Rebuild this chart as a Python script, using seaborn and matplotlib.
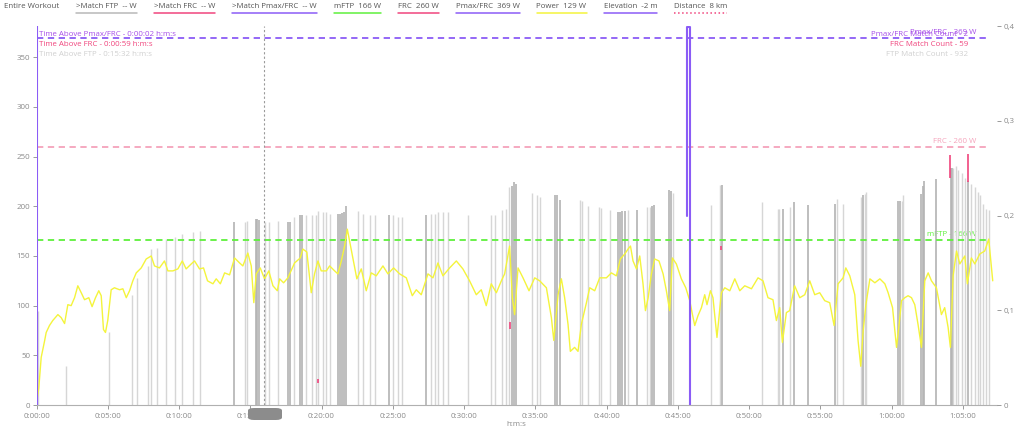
import numpy as np
import pandas as pd
import matplotlib
matplotlib.use("Agg")
import matplotlib.pyplot as plt
import seaborn as sns
from matplotlib.ticker import FuncFormatter
from matplotlib.patches import FancyBboxPatch
from matplotlib.lines import Line2D

sns.set_style("white")
plt.rcParams['font.family'] = ['Open Sans', 'DejaVu Sans']

# power trace (minutes, watts)
power_t = [0.0, 0.16, 0.33, 0.56, 0.68, 0.91, 1.14, 1.5, 1.73, 1.97, 2.2, 2.43, 2.67, 2.9, 3.14, 3.37,
           3.67, 3.9, 4.14, 4.37, 4.54, 4.7, 4.84, 5.0, 5.24, 5.47, 5.83, 6.06, 6.3, 6.53, 6.76, 7.0,
           7.35, 7.7, 8.05, 8.28, 8.63, 8.98, 9.22, 9.57, 9.92, 10.23, 10.5, 10.86, 11.09, 11.44, 11.72,
           12.0, 12.38, 12.61, 12.9, 13.2, 13.55, 13.9, 14.25, 14.48, 14.83, 15.07, 15.25, 15.42, 15.7,
           16.0, 16.3, 16.59, 16.9, 17.06, 17.34, 17.64, 18.11, 18.51, 18.69, 18.97, 19.28, 19.51, 19.75,
           19.98, 20.34, 20.57, 20.92, 21.15, 21.39, 21.62, 21.81, 21.97, 22.2, 22.48, 22.79, 23.14,
           23.49, 23.84, 24.31, 24.66, 25.06, 25.48, 25.95, 26.37, 26.65, 27.0, 27.47, 27.82, 28.17,
           28.52, 28.99, 29.46, 29.92, 30.39, 30.86, 31.21, 31.56, 31.91, 32.27, 32.62, 32.85, 33.2,
           33.39, 33.55, 33.79, 34.14, 34.56, 34.96, 35.31, 35.78, 36.13, 36.3, 36.6, 36.83, 37.06,
           37.3, 37.46, 37.76, 38.0, 38.23, 38.59, 38.82, 39.17, 39.52, 39.99, 40.34, 40.69, 40.97,
           41.28, 41.51, 41.68, 41.86, 42.1, 42.33, 42.56, 42.73, 42.92, 43.15, 43.38, 43.68, 43.97,
           44.2, 44.43, 44.62, 44.9, 45.25, 45.56, 45.84, 46.03, 46.19, 46.42, 46.66, 46.89, 47.05,
           47.29, 47.47, 47.75, 48.06, 48.3, 48.65, 49.0, 49.35, 49.7, 50.17, 50.63, 50.98, 51.33,
           51.68, 51.92, 52.15, 52.34, 52.62, 52.85, 53.2, 53.56, 53.91, 54.26, 54.61, 54.96, 55.31,
           55.66, 55.97, 56.25, 56.6, 56.79, 57.07, 57.42, 57.65, 57.84, 58.01, 58.2, 58.48, 58.83,
           59.18, 59.53, 59.76, 60.07, 60.35, 60.53, 60.7, 60.93, 61.16, 61.4, 61.63, 61.86, 62.1,
           62.33, 62.57, 62.8, 63.15, 63.5, 63.73, 63.97, 64.13, 64.32, 64.56, 64.79, 65.14, 65.32,
           65.6, 65.84, 66.19, 66.54, 66.82, 67.1]
power_w = [2, 17, 48, 64, 73, 80, 85, 91, 88, 82, 101, 100, 108, 120, 113, 106,
           108, 99, 108, 115, 110, 76, 73, 85, 116, 118, 116, 117, 108, 115, 125, 133,
           138, 147, 150, 140, 138, 145, 135, 135, 137, 145, 137, 142, 145, 137, 138,
           125, 122, 127, 122, 133, 131, 148, 143, 140, 153, 140, 103, 132, 138,
           127, 135, 120, 115, 127, 123, 128, 143, 148, 157, 154, 113, 132, 145,
           135, 135, 140, 135, 132, 145, 160, 177, 165, 148, 127, 137, 115,
           133, 130, 140, 132, 138, 132, 128, 110, 116, 111, 132, 128, 143,
           130, 138, 145, 137, 125, 111, 116, 100, 122, 113, 125, 132, 160,
           108, 91, 138, 128, 115, 128, 125, 118, 88, 65, 111, 127, 108,
           81, 54, 58, 54, 81, 103, 118, 115, 128, 128, 133, 130, 147,
           152, 157, 160, 145, 137, 150, 122, 95, 108, 132, 147, 145, 132,
           115, 95, 148, 142, 127, 118, 105, 91, 80, 90, 98, 111, 101,
           115, 108, 68, 113, 118, 115, 127, 115, 120, 117, 128, 125, 108,
           106, 85, 98, 63, 93, 95, 120, 108, 111, 125, 111, 113, 105,
           103, 80, 122, 128, 138, 130, 111, 65, 39, 75, 101, 127, 123,
           127, 122, 113, 98, 58, 81, 105, 108, 110, 108, 101, 81, 58,
           125, 133, 125, 118, 91, 98, 78, 58, 130, 155, 142, 150, 122,
           148, 142, 152, 155, 167, 125]

# FTP match markers (minutes, watts, shade 1 = dark)
match_t = [0.12, 2.08, 5.10, 6.72, 7.07, 7.79, 8.05, 8.44, 9.10, 9.74, 10.20, 10.97, 11.46, 13.85,
           14.60, 14.74, 15.37, 15.48, 15.58, 16.00, 16.31, 16.94, 17.65, 17.76, 18.04, 18.46, 18.64,
           18.88, 19.35, 19.58, 19.75, 20.10, 20.34, 20.57, 21.13, 21.27, 21.41, 21.55, 21.74, 22.55,
           22.90, 23.37, 23.73, 24.73, 25.01, 25.36, 25.67, 27.31, 27.71, 27.94, 28.17, 28.52, 28.87,
           30.28, 31.92, 32.15, 32.69, 32.97, 33.15, 33.34, 33.48, 33.62, 34.77, 35.12, 35.31, 36.36,
           36.50, 36.71, 38.12, 38.31, 38.70, 39.47, 39.64, 40.22, 40.78, 40.92, 41.06, 41.27, 41.51,
           42.17, 42.82, 43.03, 43.17, 43.31, 44.36, 44.55, 44.67, 47.36, 47.94, 48.13, 50.94, 52.01,
           52.12, 52.39, 52.86, 53.14, 54.14, 56.02, 56.14, 56.60, 57.89, 58.02, 58.12, 58.24, 60.46,
           60.58, 60.70, 60.81, 62.10, 62.18, 62.26, 63.11, 64.14, 64.23, 64.32, 64.51, 64.67, 64.91,
           65.14, 65.37, 65.61, 65.84, 66.07, 66.24, 66.42, 66.66, 66.84]
match_w = [95, 39, 73, 111, 128, 140, 157, 158, 167, 169, 172, 174, 175, 184,
           184, 185, 187, 187, 186, 184, 184, 185, 184, 184, 189, 191, 191,
           191, 191, 191, 195, 194, 194, 192, 192, 192, 193, 194, 200, 195,
           192, 191, 191, 191, 191, 189, 189, 191, 192, 192, 194, 194, 194,
           191, 191, 191, 196, 197, 219, 220, 224, 222, 213, 211, 209, 211,
           211, 206, 206, 205, 200, 199, 198, 196, 194, 194, 195, 195, 196,
           196, 199, 199, 200, 201, 216, 215, 213, 201, 221, 221, 204, 197,
           197, 197, 199, 204, 201, 202, 207, 202, 209, 211, 212, 214, 205,
           205, 205, 211, 212, 220, 225, 227, 239, 239, 239, 241, 237, 234,
           229, 225, 222, 219, 214, 211, 202, 197, 196]
match_dark = [0, 0, 0, 0, 0, 0, 0, 0, 0, 0, 0, 0, 0, 1,
              0, 0, 1, 1, 1, 0, 0, 0, 1, 1, 0, 1, 1,
              0, 0, 0, 0, 0, 0, 0, 1, 1, 1, 1, 1, 0,
              0, 0, 0, 1, 0, 0, 0, 1, 0, 0, 0, 0, 0,
              0, 0, 0, 0, 0, 0, 1, 1, 1, 0, 0, 0, 1,
              1, 1, 0, 0, 0, 0, 0, 0, 1, 1, 1, 1, 0,
              1, 0, 0, 1, 1, 1, 1, 0, 0, 0, 1, 0, 0,
              0, 1, 0, 1, 1, 1, 0, 0, 0, 1, 0, 0, 1,
              1, 0, 0, 1, 1, 1, 1, 1, 1, 0, 0, 0, 0,
              0, 1, 0, 0, 0, 0, 0, 0, 0]

# FRC match markers (minutes, low, high)
frc_t = [19.75, 33.2, 48.05, 64.13, 65.4]
frc_lo = [22, 77, 156, 229, 224]
frc_hi = [26, 84, 160, 252, 253]

# elevation trace drawn on the power scale
elev_t = [0.03, 0.03, np.nan, 45.62, 45.62, 45.88, 45.88]
elev_v = [-20, 400, np.nan, 190, 380, 380, -20]

thresholds = {"mFTP": 166, "FRC": 260, "Pmax/FRC": 369}
y_ticks = [0, 50, 100, 150, 200, 250, 300, 350]
y2_ticks = [0, 0.1, 0.2, 0.3, 0.4]
y2_labels = ["0", "0,1", "0,2", "0,3", "0,4"]
x_ticks = [0, 5, 10, 15, 20, 25, 30, 35, 40, 45, 50, 55, 60, 65]

PURPLE = "#8b5cf6"
PURPLE_TXT = "#a64ee8"
PINK = "#f0457d"
PINK_LIGHT = "#f5a3bb"
GREEN = "#5ef03c"
YELLOW = "#f4f43c"
GRAY_TXT = "#8a8a8a"

W, H = 1024, 430
fig = plt.figure(figsize=(W / 100, H / 100), dpi=100)
ax = fig.add_axes([36.5 / W, 1 - 405 / H, 960.5 / W, 379 / H])
ax2 = ax.twinx()

t_end = 66.6
dash = (0, (3.5, 2.5))
ax.hlines(thresholds["mFTP"], 0, t_end, color=GREEN, lw=1.3, linestyles=dash, zorder=3)
ax.hlines(thresholds["FRC"], 0, t_end, color=PINK_LIGHT, lw=1.3, linestyles=dash, zorder=3)
ax.hlines(thresholds["Pmax/FRC"], 0, t_end, color=PURPLE, lw=1.3, linestyles=dash, zorder=3)

fs = 5.7
ax.text(65.95, thresholds["mFTP"] + 2, "mFTP - 166 W", color=GREEN, fontsize=fs, ha="right", va="bottom", zorder=1)
ax.text(65.95, thresholds["FRC"] + 2, "FRC - 260 W", color=PINK_LIGHT, fontsize=fs, ha="right", va="bottom", zorder=1)
ax.text(65.95, thresholds["Pmax/FRC"] + 2, "Pmax/FRC - 369 W", color=PURPLE_TXT, fontsize=fs, ha="right", va="bottom", zorder=1)

light = [c for c, d in zip(match_t, match_dark) if d == 0]
light_h = [h for h, d in zip(match_w, match_dark) if d == 0]
dark = [c for c, d in zip(match_t, match_dark) if d == 1]
dark_h = [h for h, d in zip(match_w, match_dark) if d == 1]
ax.vlines(light, 0, light_h, color="#d6d6d6", lw=1.0, zorder=2)
ax.vlines(dark, 0, dark_h, color="#b3b3b3", lw=1.2, zorder=2)
ax.vlines(frc_t, frc_lo, frc_hi, color=PINK, lw=1.2, zorder=4)

power_df = pd.DataFrame({"minutes": power_t, "watts": power_w})
sns.lineplot(data=power_df, x="minutes", y="watts", ax=ax, color=YELLOW, lw=1.0, zorder=4)
ax.plot(elev_t, elev_v, color=PURPLE, lw=1.5, zorder=5)

# cursor
ax.axvline(15.93, color="#9a9a9a", lw=0.8, ls=(0, (2, 2)), zorder=6)

ax.set_xlim(0, 67.4)
ax.set_ylim(0, 381.5)
ax2.set_ylim(0, 0.3989)
ax.set_xlabel("")
ax.set_ylabel("")
ax.set_xticks(x_ticks)
ax.xaxis.set_major_formatter(FuncFormatter(lambda v, p: "%d:%02d:00" % (int(v) // 60, int(v) % 60)))
ax.set_yticks(y_ticks)
ax2.set_yticks(y2_ticks)
ax2.set_yticklabels(y2_labels)
for a in (ax, ax2):
    a.tick_params(axis="both", labelsize=fs, colors=GRAY_TXT, length=3, width=0.6, pad=1.5, direction="out")
    for s in a.spines.values():
        s.set_visible(False)
ax.tick_params(axis="x", bottom=True, length=3, pad=3)
ax.tick_params(axis="y", left=True)
ax2.tick_params(axis="y", right=True)
ax.spines["bottom"].set_visible(True)
ax.spines["bottom"].set_color("#b0b0b0")
ax.spines["bottom"].set_linewidth(0.8)

def ytxt(py):
    return 1 - py / H

fig.text(516 / W, ytxt(424), "h:m:s", color=GRAY_TXT, fontsize=fs, ha="center", va="center")

# stat texts
fig.text(39 / W, ytxt(34), "Time Above Pmax/FRC - 0:00:02 h:m:s", color=PURPLE_TXT, fontsize=fs, va="center")
fig.text(39 / W, ytxt(44), "Time Above FRC - 0:00:59 h:m:s", color=PINK, fontsize=fs, va="center")
fig.text(39 / W, ytxt(55), "Time Above FTP - 0:15:32 h:m:s", color="#d0d0d0", fontsize=fs, va="center")
fig.text(968 / W, ytxt(34), "Pmax/FRC Match Count - 2", color=PURPLE_TXT, fontsize=fs, va="center", ha="right")
fig.text(968 / W, ytxt(44), "FRC Match Count - 59", color=PINK, fontsize=fs, va="center", ha="right")
fig.text(968 / W, ytxt(55), "FTP Match Count - 932", color="#d0d0d0", fontsize=fs, va="center", ha="right")

# tooltip pill over the x axis
fig.patches.append(FancyBboxPatch((248 / W, ytxt(420)), 34 / W, 12 / H,
                                  boxstyle="round,pad=0,rounding_size=0.006",
                                  transform=fig.transFigure, fc="#8c8c8c", ec="none", zorder=10))

# legend strip along the top
legend_items = [("Entire Workout", None, "-"),
                (">Match FTP  -- W", "#b8b8b8", "-"),
                (">Match FRC  -- W", PINK, "-"),
                (">Match Pmax/FRC  -- W", PURPLE, "-"),
                ("mFTP  166 W", GREEN, "-"),
                ("FRC  260 W", PINK, "-"),
                ("Pmax/FRC  369 W", PURPLE, "-"),
                ("Power  129 W", YELLOW, "-"),
                ("Elevation  -2 m", PURPLE, "-"),
                ("Distance  8 km", PINK, ":")]
fig.canvas.draw()
renderer = fig.canvas.get_renderer()
x = 4
for label, col, ls in legend_items:
    t = fig.text(x / W, ytxt(7), label, color="#555555", fontsize=fs, va="center")
    w = t.get_window_extent(renderer).width
    if col is not None:
        fig.add_artist(Line2D([x / W, (x + w) / W], [ytxt(12.5), ytxt(12.5)], color=col,
                              lw=1.1, ls=ls, transform=fig.transFigure))
    x += w + 17

fig.savefig("out.png", dpi=100)
